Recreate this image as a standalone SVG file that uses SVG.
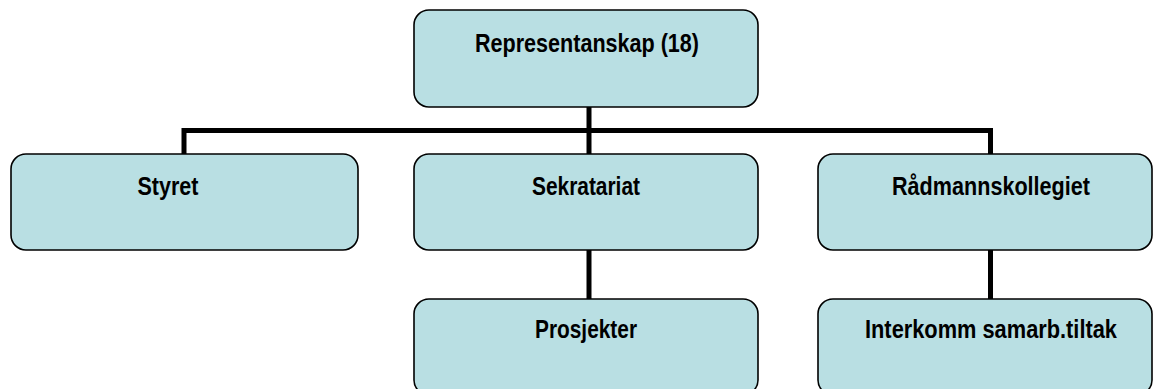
<svg xmlns="http://www.w3.org/2000/svg" width="1154" height="389" viewBox="0 0 1154 389">
  <style>
    .box { fill: #B9DFE3; stroke: #000000; stroke-width: 1.6; }
    .lbl { font-family: "Liberation Sans", Arial, sans-serif; font-weight: bold; font-size: 25px; fill: #000000; text-anchor: middle; }
    .conn { fill: none; stroke: #000000; stroke-width: 5; stroke-linecap: butt; stroke-linejoin: miter; }
  </style>
  <rect width="1154" height="389" fill="#FFFFFF"/>
  <g id="connectors">
    <path class="conn" d="M589 107 V130.5"/>
    <path class="conn" d="M184 154 V130.5 H990.5 V154"/>
    <path class="conn" d="M589 130.5 V154"/>
    <path class="conn" d="M589 250 V299"/>
    <path class="conn" d="M990.5 250 V299"/>
  </g>
  <g id="node-representanskap">
    <rect class="box" x="414" y="10" width="344" height="97" rx="15" ry="15"/>
    <text class="lbl" x="587" y="52" textLength="224" lengthAdjust="spacingAndGlyphs">Representanskap (18)</text>
  </g>
  <g id="node-styret">
    <rect class="box" x="11" y="154" width="347" height="96" rx="15" ry="15"/>
    <text class="lbl" x="168" y="195" textLength="61" lengthAdjust="spacingAndGlyphs">Styret</text>
  </g>
  <g id="node-sekratariat">
    <rect class="box" x="414" y="154" width="344" height="96" rx="15" ry="15"/>
    <text class="lbl" x="586" y="195" textLength="108" lengthAdjust="spacingAndGlyphs">Sekratariat</text>
  </g>
  <g id="node-radmannskollegiet">
    <rect class="box" x="818" y="154" width="334" height="96" rx="15" ry="15"/>
    <text class="lbl" x="991" y="195" textLength="198" lengthAdjust="spacingAndGlyphs">Rådmannskollegiet</text>
  </g>
  <g id="node-prosjekter">
    <rect class="box" x="414" y="299" width="344" height="96" rx="15" ry="15"/>
    <text class="lbl" x="586" y="338" textLength="102" lengthAdjust="spacingAndGlyphs">Prosjekter</text>
  </g>
  <g id="node-interkomm">
    <rect class="box" x="818" y="299" width="334" height="96" rx="15" ry="15"/>
    <text class="lbl" x="991" y="338" textLength="252" lengthAdjust="spacingAndGlyphs">Interkomm samarb.tiltak</text>
  </g>
</svg>
